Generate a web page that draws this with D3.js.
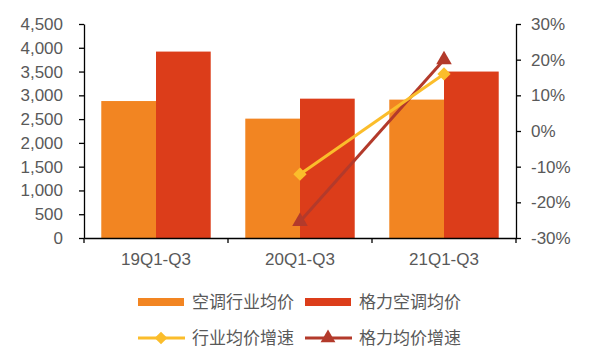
<!DOCTYPE html>
<html>
<head>
<meta charset="utf-8">
<script src="https://cdn.jsdelivr.net/npm/d3@7"></script>
<style>
  body { margin: 0; background: #fff; }
  text { font-family: Arial, "Liberation Sans", "Noto Sans CJK SC", sans-serif; fill: #595959; }
</style>
</head>
<body>
<div id="chart"></div>
<script>
const categories = ["19Q1-Q3", "20Q1-Q3", "21Q1-Q3"];
const industryPrice = [2880, 2510, 2910];   // 空调行业均价
const greePrice = [3920, 2930, 3500];       // 格力空调均价
const industryGrowth = [null, -12.1, 16.0]; // 行业均价增速 (%)
const greeGrowth = [null, -25.4, 20.0];     // 格力均价增速 (%)
const leftTicks = d3.range(0, 4501, 500);
const rightTicks = d3.range(-30, 31, 10);

const width = 600, height = 351;
const margin = { left: 84, right: 84, top: 24, bottom: 113 };

const svg = d3.select("#chart").append("svg")
    .attr("width", width)
    .attr("height", height);

const x = d3.scaleBand()
    .domain(categories)
    .range([margin.left, width - margin.right])
    .paddingInner(0.24)
    .paddingOuter(0.12);

const xInner = d3.scaleBand()
    .domain([0, 1])
    .range([0, x.bandwidth()]);

const yLeft = d3.scaleLinear()
    .domain([0, 4500])
    .range([height - margin.bottom, margin.top]);

const yRight = d3.scaleLinear()
    .domain([-30, 30])
    .range([height - margin.bottom, margin.top]);

const colors = {
    industry: "#F28522",
    gree: "#DC3D1A",
    industryLine: "#FBBD2B",
    greeLine: "#B33A2B"
};

// bars
const series = [industryPrice, greePrice];
const barColors = [colors.industry, colors.gree];
series.forEach((vals, s) => {
    svg.append("g").selectAll("rect")
        .data(vals)
        .join("rect")
        .attr("x", (d, i) => x(categories[i]) + xInner(s))
        .attr("y", d => yLeft(d))
        .attr("width", xInner.bandwidth())
        .attr("height", d => yLeft(0) - yLeft(d))
        .attr("fill", barColors[s]);
});

// axes
const fmt = d3.format(",");
const leftAxis = svg.append("g")
    .attr("transform", `translate(${margin.left},0)`)
    .call(d3.axisLeft(yLeft).tickValues(leftTicks).tickFormat(fmt).tickSize(5).tickSizeOuter(0));

const rightAxis = svg.append("g")
    .attr("transform", `translate(${width - margin.right},0)`)
    .call(d3.axisRight(yRight).tickValues(rightTicks).tickFormat(d => d + "%").tickSize(5).tickSizeOuter(0));

const step = x.step();
const bottomAxis = svg.append("g")
    .attr("transform", `translate(0,${height - margin.bottom})`)
    .call(d3.axisBottom(x).tickSize(0).tickSizeOuter(0));

// category boundary ticks
const bounds = [margin.left, x(categories[1]) - x.paddingInner() * step / 2, x(categories[2]) - x.paddingInner() * step / 2, width - margin.right];
svg.append("g").selectAll("line")
    .data(bounds)
    .join("line")
    .attr("x1", d => d).attr("x2", d => d)
    .attr("y1", height - margin.bottom)
    .attr("y2", height - margin.bottom + 5)
    .attr("stroke", "#000")
    .attr("stroke-width", 1.3);

[leftAxis, rightAxis, bottomAxis].forEach(a => {
    a.select(".domain").attr("stroke", "#000").attr("stroke-width", 1.3);
    a.selectAll(".tick line").attr("stroke", "#000").attr("stroke-width", 1.3);
    a.selectAll("text").style("font-size", "17px").attr("fill", "#595959");
});
leftAxis.selectAll("text").attr("x", -21);
rightAxis.selectAll("text").attr("x", 15);
bottomAxis.selectAll("text").attr("y", 27).attr("dy", 0);

// lines
const cx = c => x(c) + x.bandwidth() / 2;
function marker(shape, big) {
    if (shape === "diamond") {
        return { d: d3.symbol().type(d3.symbolSquare).size(big ? 88 : 80)(), rot: 45 };
    }
    return { d: d3.symbol().type(d3.symbolTriangle).size(big ? 105 : 95)(), rot: 0 };
}
function drawLine(vals, color, shape) {
    const pts = vals.map((v, i) => ({ c: categories[i], v })).filter(p => p.v !== null);
    const line = d3.line().x(p => cx(p.c)).y(p => yRight(p.v));
    svg.append("path")
        .datum(pts)
        .attr("d", line)
        .attr("fill", "none")
        .attr("stroke", color)
        .attr("stroke-width", 3);
    const m = marker(shape, true);
    svg.append("g").selectAll("path")
        .data(pts)
        .join("path")
        .attr("transform", p => `translate(${cx(p.c)},${yRight(p.v)}) rotate(${m.rot})`)
        .attr("d", m.d)
        .attr("fill", color);
}
drawLine(greeGrowth, colors.greeLine, "triangle");
drawLine(industryGrowth, colors.industryLine, "diamond");

// legend
const legendItems = [
    { name: "空调行业均价", color: colors.industry, type: "bar", x: 138, y: 302 },
    { name: "格力空调均价", color: colors.gree, type: "bar", x: 305, y: 302 },
    { name: "行业均价增速", color: colors.industryLine, type: "line", shape: "diamond", x: 138, y: 338 },
    { name: "格力均价增速", color: colors.greeLine, type: "line", shape: "triangle", x: 305, y: 338 }
];
const lg = svg.append("g").selectAll("g")
    .data(legendItems)
    .join("g")
    .attr("transform", d => `translate(${d.x},${d.y})`);
lg.filter(d => d.type === "bar").append("rect")
    .attr("x", 0).attr("y", -4)
    .attr("width", 46).attr("height", 8)
    .attr("fill", d => d.color);
lg.filter(d => d.type === "line").append("line")
    .attr("x1", 0).attr("x2", 47)
    .attr("stroke", d => d.color)
    .attr("stroke-width", 3);
lg.filter(d => d.type === "line").append("path")
    .attr("transform", d => `translate(23,0) rotate(${marker(d.shape, false).rot})`)
    .attr("d", d => marker(d.shape, false).d)
    .attr("fill", d => d.color);
lg.append("text")
    .attr("x", 54)
    .attr("dy", "0.36em")
    .style("font-size", "17px")
    .attr("fill", "#595959")
    .text(d => d.name);
</script>
</body>
</html>
